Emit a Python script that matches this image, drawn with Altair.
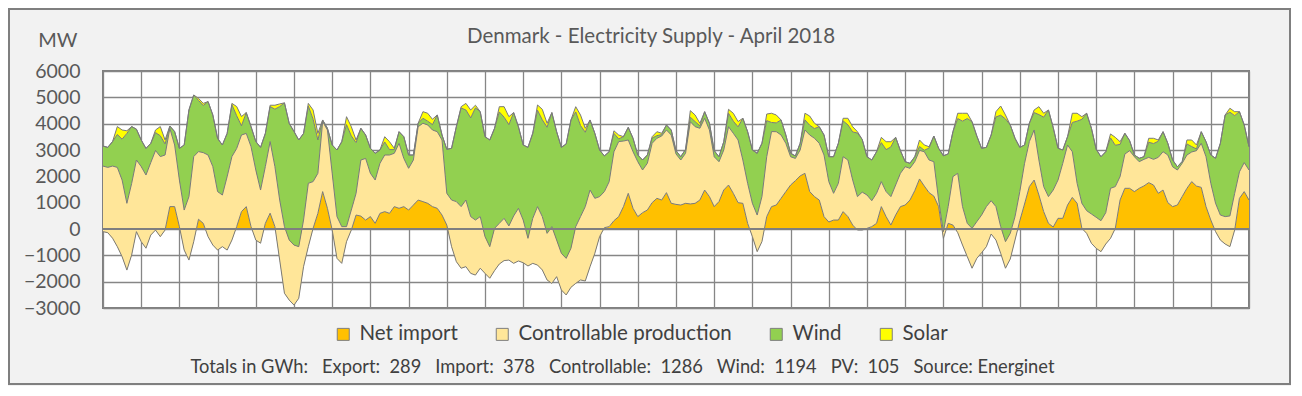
import altair as alt
import pandas as pd

# hourly samples every 3 hours through April 2018 (hour 0 = 1 April 00:00)
hours = list(range(0, 721, 3))

net_import = [
    -100, -140, -350, -670, -1050, -1560, -990, -100,
    -480, -730, -230, -40, -290, -40, 850, 850,
    90, -800, -1180, -480, 370, 215, -290, -610,
    -800, -670, -800, -420, 90, 660, 850, 90,
    -420, -540, 215, 600, 90, -1180, -2440, -2700,
    -2890, -2630, -1430, -670, 25, 595, 1420, 785,
    -40, -1115, -1305, -480, -40, 530, 490, 340,
    470, 215, 595, 660, 595, 850, 785, 850,
    720, 910, 1100, 1040, 975, 850, 785, 530,
    150, -670, -1240, -1490, -1430, -1685, -1750, -1490,
    -1685, -1870, -1580, -1330, -1200, -1180, -1305, -1215,
    -1280, -1405, -1305, -1370, -1555, -1935, -2065, -1810,
    -2315, -2505, -2215, -2065, -1935, -1975, -1430, -925,
    -290, 50, 90, 315, 470, 850, 1355, 785,
    470, 620, 720, 1000, 1165, 1100, 1380, 975,
    935, 910, 975, 950, 975, 1100, 1480, 1230,
    850, 1040, 1480, 1670, 1355, 1000, 975, 215,
    -290, -860, -480, 470, 850, 910, 1165, 1420,
    1670, 1835, 2015, 2115, 1420, 1230, 1100, 470,
    265, 340, 340, 660, 470, 150, -40, -40,
    25, 90, 215, 850, 470, 150, 530, 850,
    910, 1100, 1455, 1900, 1630, 1380, 1250, 850,
    -355, 215, 150, -140, -610, -1050, -1490, -1115,
    -900, -670, -190, -420, -925, -1490, -1140, -420,
    315, 950, 1610, 1860, 1290, 660, 215, 75,
    405, 405, 910, 1200, 975, 25, -165, -545,
    -735, -860, -570, -355, 25, 1100, 1545, 1545,
    1420, 1545, 1635, 1760, 1670, 1355, 1480, 1000,
    850, 910, 1230, 1545, 1800, 1630, 1580, 850,
    340, -100, -420, -570, -670, -40, 1165, 1420,
    1100,
]

controllable = [
    2490, 2480, 2740, 3010, 2910, 2535, 2720, 2720,
    2850, 2780, 2750, 3020, 3040, 2850, 2970, 2340,
    1770, 1520, 2410, 3230, 2570, 2685, 3100, 2980,
    2220, 1960, 2790, 3170, 2970, 2910, 2780, 3040,
    2660, 2020, 2155, 2720, 2280, 2280, 2530, 2280,
    2280, 1960, 1770, 2405, 1775, 1520, 2655, 2975,
    2155, 1585, 1395, 570, 760, 825, 2130, 2340,
    1645, 1645, 1900, 2150, 2215, 2025, 2470, 1830,
    1585, 1710, 2785, 2975, 2975, 2910, 2910, 2850,
    1205, 1770, 2280, 2340, 2530, 2155, 2090, 1960,
    1395, 1200, 1605, 1545, 1605, 1295, 1800, 2000,
    1620, 1050, 1710, 2220, 2025, 1770, 2155, 1390,
    1390, 1390, 1480, 2155, 2405, 2825, 2910, 2090,
    1520, 1370, 1705, 2620, 2850, 2490, 2025, 2150,
    2085, 1620, 1775, 2255, 2280, 2430, 2380, 2595,
    1915, 1710, 1900, 3125, 2910, 2725, 2725, 2530,
    1895, 1515, 1520, 2215, 2280, 2380, 1645, 1520,
    1265, 1390, 1710, 2275, 2850, 2785, 2405, 1835,
    1075, 845, 985, 1645, 2150, 2215, 2155, 2340,
    1535, 1015, 1395, 2085, 2150, 1710, 1270, 1440,
    1265, 985, 1140, 950, 950, 1080, 1140, 1265,
    1455, 1205, 1100, 1085, 1305, 1240, 1305, 250,
    255, 635, 1840, 2255, 1460, 1265, 1515, 1395,
    1430, 1520, 1265, 1270, 1015, 1010, 975, 890,
    1105, 1545, 1710, 1900, 1330, 950, 1015, 1405,
    1455, 2090, 2280, 1735, 760, 950, 860, 1115,
    1180, 1175, 1190, 1900, 1585, 890, 1300, 1430,
    1325, 1010, 1010, 960, 975, 1365, 1455, 1810,
    1515, 1330, 1265, 1265, 1125, 1345, 1675, 1895,
    1395, 1075, 950, 1040, 1165, 1395, 1005, 1100,
    1140,
]

wind = [
    760, 760, 930, 1250, 1550, 2655, 2160, 1170,
    1010, 1010, 730, 680, 790, 420, 90, 510,
    1200, 2470, 3290, 2340, 1940, 1790, 2030, 1960,
    2020, 1900, 1640, 1970, 1240, 350, 790, 760,
    1080, 1620, 1260, 1330, 2180, 3550, 4700, 4430,
    4310, 4050, 3290, 2935, 2370, 1265, 65, 65,
    1075, 2530, 3225, 3875, 2815, 1925, 1205, 890,
    950, 1015, 505, 495, 205, 140, 440, 825,
    505, 190, 130, 190, 145, 205, 635, 190,
    1670, 1965, 2845, 3745, 3420, 3750, 4260, 3985,
    3795, 4050, 3800, 4230, 3840, 3850, 3925, 3100,
    2850, 3455, 3230, 3660, 3675, 4030, 4330, 4115,
    4025, 4345, 4875, 4355, 3460, 2825, 2660, 2470,
    1770, 1355, 1140, 695, 100, 165, 480, 510,
    255, 380, 315, 200, 100, 55, 190, 190,
    125, 125, 150, 170, 195, 90, 250, 255,
    230, 190, 315, 510, 460, 500, 1585, 1960,
    2025, 2345, 2025, 1370, 345, 335, 570, 315,
    130, 95, 255, 385, 370, 370, 630, 760,
    945, 1390, 1520, 1360, 1335, 1825, 2415, 2000,
    1455, 1545, 1580, 1480, 1595, 1885, 1810, 860,
    190, 190, 190, 145, 55, 455, 975, 1965,
    2880, 2000, 1705, 2080, 3245, 3980, 4050, 3250,
    2535, 2250, 2495, 3405, 4230, 4660, 4115, 2975,
    1680, 695, 695, 660, 1725, 2635, 3290, 2370,
    1205, 505, 315, 1110, 2360, 3190, 3700, 3255,
    2580, 2430, 2315, 1915, 1570, 1225, 790, 380,
    65, 130, 100, 575, 600, 610, 760, 445,
    255, 125, 65, 420, 205, 65, 440, 570,
    1075, 1710, 2725, 3860, 3940, 2950, 2285, 1430,
    885,
]

solar = [
    0, 0, 0, 300, 350, 100, 0, 0,
    0, 0, 0, 100, 350, 150, 0, 0,
    0, 0, 0, 0, 80, 80, 0, 0,
    0, 0, 0, 50, 350, 350, 0, 0,
    0, 0, 0, 50, 150, 100, 0, 0,
    0, 0, 0, 100, 350, 250, 0, 0,
    0, 0, 0, 300, 350, 100, 0, 0,
    0, 0, 0, 200, 300, 50, 0, 0,
    0, 0, 0, 250, 300, 200, 0, 0,
    0, 0, 0, 50, 250, 300, 100, 0,
    0, 0, 0, 200, 400, 300, 0, 0,
    0, 0, 0, 200, 400, 150, 0, 0,
    0, 0, 0, 200, 400, 150, 0, 0,
    0, 0, 0, 100, 150, 0, 0, 0,
    0, 0, 0, 50, 150, 50, 0, 0,
    0, 0, 0, 250, 250, 100, 0, 0,
    0, 0, 0, 150, 300, 200, 0, 0,
    0, 0, 0, 250, 350, 300, 0, 0,
    0, 0, 0, 250, 350, 200, 0, 0,
    0, 0, 0, 100, 250, 200, 50, 0,
    0, 0, 0, 200, 300, 200, 0, 0,
    0, 0, 0, 250, 200, 50, 0, 0,
    0, 0, 0, 200, 300, 200, 0, 0,
    0, 0, 0, 200, 350, 150, 0, 0,
    0, 0, 0, 100, 300, 150, 0, 0,
    0, 0, 0, 350, 300, 100, 0, 0,
    0, 0, 0, 150, 300, 100, 0, 0,
    0, 0, 0, 150, 200, 50, 0, 0,
    0, 0, 0, 150, 250, 150, 0, 0,
    0, 0, 0, 0, 150, 150, 0, 0,
    0,
]

series_names = ["Net import", "Controllable production", "Wind", "Solar"]
series_colors = ["#FFC000", "#FFE699", "#92D050", "#FFFF00"]
y_ticks = list(range(-3000, 6001, 1000))
day_ticks = list(range(0, 721, 24))
title_text = "Denmark - Electricity Supply - April 2018"
footer_text = ("Totals in GWh:\u00a0\u00a0 Export:\u00a0 289\u00a0\u00a0 Import:\u00a0 378\u00a0\u00a0 "
               "Controllable:\u00a0 1286\u00a0\u00a0 Wind:\u00a0 1194\u00a0\u00a0 PV:\u00a0 105\u00a0\u00a0 "
               "Source: Energinet")

# Excel-style stacking: each series is drawn from the previous running total
rows = []
for i, h in enumerate(hours):
    n = net_import[i]
    w = n + controllable[i]
    g = w + wind[i]
    t = g + solar[i]
    for name, lo, hi in zip(series_names, [0, n, w, g], [n, w, g, t]):
        rows.append({"hour": h, "series": name, "lo": lo, "hi": hi})
df = pd.DataFrame(rows)
one = pd.DataFrame({"v": [0]})

GRID = "#868686"
TXT = "#595959"

x_enc = alt.X(
    "hour:Q",
    scale=alt.Scale(domain=[0, 720], nice=False, zero=False),
    axis=alt.Axis(
        values=day_ticks, labels=False, ticks=False, domain=False,
        grid=True, gridColor=GRID, gridWidth=1.3,
        title=footer_text, titleFont="Lato", titleFontSize=18.3,
        titleFontWeight="normal", titleColor="#404040",
        titleX=519, titleY=59, titleAlign="center", titleBaseline="middle",
    ),
)
y_scale = alt.Scale(domain=[-3000, 6000], nice=False, zero=False)
y_axis = alt.Axis(
    values=y_ticks, format="d", ticks=False, domain=False, grid=True,
    gridColor=GRID, gridWidth=1.3,
    labelFont="Lato", labelFontSize=19.5, labelColor=TXT, labelPadding=23,
    title="MW", titleFont="Lato", titleFontSize=20, titleFontWeight="normal",
    titleColor=TXT, titleAngle=0, titleAlign="right", titleBaseline="middle",
    titleX=-26, titleY=-31,
)
color_enc = alt.Color(
    "series:N",
    scale=alt.Scale(domain=series_names, range=series_colors),
    legend=alt.Legend(
        title=None, orient="none", legendX=230, legendY=253,
        direction="horizontal", columns=4, symbolType="square", symbolSize=144,
        symbolStrokeColor="#7f7f7f", symbolStrokeWidth=1, symbolOpacity=1,
        labelFont="Lato", labelFontSize=20.5, labelColor="#404040", labelLimit=0,
        labelOffset=6, columnPadding=34,
    ),
)

layers = []
for name in series_names:
    layers.append(
        alt.Chart(df)
        .transform_filter(alt.datum.series == name)
        .mark_area(opacity=1, interpolate="linear")
        .encode(
            x=x_enc,
            y=alt.Y("lo:Q", scale=y_scale, axis=y_axis),
            y2="hi:Q",
            color=color_enc,
        )
    )

outlines = (
    alt.Chart(df)
    .mark_line(color="#7a7a7a", strokeWidth=1)
    .encode(
        x=x_enc,
        y=alt.Y("hi:Q", scale=y_scale, axis=y_axis),
        detail="series:N",
    )
)

zero_line = (
    alt.Chart(one)
    .mark_rule(color="#7f7f7f", strokeWidth=2.2)
    .encode(y=alt.Y("v:Q", scale=y_scale, axis=y_axis))
)

frame = (
    alt.Chart(one)
    .mark_rect(fill="transparent", stroke="#7f7f7f", strokeWidth=2)
    .encode(x=alt.value(-94), x2=alt.value(1187), y=alt.value(-62), y2=alt.value(313))
)

chart = (
    alt.layer(*layers, outlines, zero_line, frame)
    .properties(
        width=1146,
        height=237,
        padding={"left": 95, "top": 63, "right": 42, "bottom": 78},
        autosize=alt.AutoSizeParams(type="none"),
        title=alt.TitleParams(
            title_text, font="Lato", fontSize=20.5, fontWeight="normal",
            color=TXT, anchor="middle", frame="group", dx=-25, offset=-39,
        ),
    )
    .configure(background="#f2f2f2", font="Lato")
    .configure_view(fill="white", stroke="#7f7f7f", strokeWidth=2)
)

chart.save("out.html", embed_options={"renderer": "svg", "actions": False})
